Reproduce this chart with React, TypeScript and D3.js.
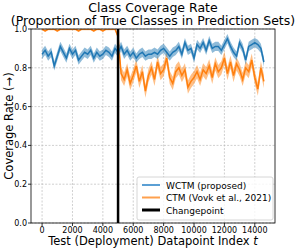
import * as d3 from 'd3';

const step = 200;
const changepoint = 5000;

const wctm = [
  0.87, 0.89, 0.86, 0.88, 0.81, 0.86, 0.91, 0.88, 0.85, 0.90, 0.87, 0.89, 0.84,
  0.86, 0.88, 0.87, 0.89, 0.85, 0.88, 0.86, 0.87, 0.89, 0.88, 0.86, 0.90, 0.88,
  0.91, 0.87, 0.89, 0.86, 0.88, 0.85, 0.87, 0.88, 0.86, 0.87,
  0.87, 0.88, 0.87, 0.89, 0.90, 0.88, 0.86, 0.88, 0.89, 0.91,
  0.87, 0.93, 0.89, 0.90, 0.85, 0.92, 0.90, 0.93, 0.89, 0.94,
  0.90, 0.91, 0.91, 0.89, 0.92, 0.95, 0.91, 0.88, 0.86, 0.93,
  0.90, 0.84, 0.91, 0.92, 0.93, 0.92, 0.90, 0.83,
];

const ctm = [
  1.0, 0.99, 1.0, 1.0, 1.0, 0.99, 1.0, 1.0, 1.0, 1.0, 1.0, 1.0, 0.99,
  1.0, 1.0, 1.0, 1.0, 0.99, 1.0, 1.0, 0.99, 1.0, 1.0, 1.0, 1.0, 0.96,
  0.77, 0.74, 0.79, 0.72, 0.76, 0.81, 0.73, 0.78, 0.68, 0.76,
  0.80, 0.74, 0.83, 0.77, 0.79, 0.85, 0.75, 0.72, 0.78, 0.80,
  0.76, 0.79, 0.70, 0.73, 0.75, 0.78, 0.74, 0.79, 0.77, 0.81,
  0.75, 0.82, 0.78, 0.80, 0.85, 0.77, 0.83, 0.76, 0.82, 0.79,
  0.74, 0.80, 0.78, 0.84, 0.75, 0.69, 0.80, 0.73,
];

const wctmBand = 0.024;
const ctmBandPre = 0.006;
const ctmBandPost = 0.034;

const xTicks = [0, 2000, 4000, 6000, 8000, 10000, 12000, 14000];
const yTicks = [0, 0.2, 0.4, 0.6, 0.8, 1.0];

const W = 298;
const H = 250;
const m = { left: 31, right: 23, top: 29, bottom: 27 };
const font = 'DejaVu Sans, sans-serif';

export default function App() {
  const xMax = (wctm.length - 1) * step;
  const pad = xMax * 0.05;
  const x = d3.scaleLinear().domain([-pad, xMax + pad]).range([m.left, W - m.right]);
  const y = d3.scaleLinear().domain([0, 1]).range([H - m.bottom, m.top]);

  const line = d3
    .line<number>()
    .x((_, i) => x(i * step))
    .y((d) => y(d));

  const band = (vals: number[], err: (i: number) => number) =>
    d3
      .area<number>()
      .x((_, i) => x(i * step))
      .y0((d, i) => y(d - err(i)))
      .y1((d, i) => y(Math.min(1, d + err(i))))(vals);

  const series = [
    { vals: ctm, color: '#ff7f0e', err: (i: number) => (i * step <= changepoint ? ctmBandPre : ctmBandPost) },
    { vals: wctm, color: '#1f77b4', err: () => wctmBand },
  ];

  const legend = [
    { label: 'WCTM (proposed)', color: '#5b9fd4', w: 2 },
    { label: 'CTM (Vovk et al., 2021)', color: '#ffa04d', w: 2 },
    { label: 'Changepoint', color: '#000', w: 3 },
  ];

  const x0 = m.left;
  const x1 = W - m.right;
  const y0 = H - m.bottom;
  const y1 = m.top;

  return (
    <svg
      width={W}
      height={H}
      style={{ position: 'absolute', left: 0, top: 0, fontFamily: font }}
    >
      <rect width={W} height={H} fill="#fff" />
      <defs>
        <clipPath id="plot">
          <rect x={x0} y={y1} width={x1 - x0} height={y0 - y1} />
        </clipPath>
      </defs>
      {xTicks.map((t) => (
        <line key={'gx' + t} x1={x(t)} x2={x(t)} y1={y1} y2={y0} stroke="#b0b0b0" strokeWidth={0.6} strokeDasharray="2,1.5" />
      ))}
      {yTicks.map((t) => (
        <line key={'gy' + t} x1={x0} x2={x1} y1={y(t)} y2={y(t)} stroke="#b0b0b0" strokeWidth={0.6} strokeDasharray="2,1.5" />
      ))}
      <g clipPath="url(#plot)">
        {series.map((s) => (
          <g key={s.color}>
            <path d={band(s.vals, s.err) ?? ''} fill={s.color} opacity={0.5} />
            <path d={line(s.vals) ?? ''} fill="none" stroke={s.color} strokeWidth={1.5} />
          </g>
        ))}
        <line x1={x(changepoint)} x2={x(changepoint)} y1={y1} y2={y0} stroke="#000" strokeWidth={2.5} />
      </g>
      <rect x={x0} y={y1} width={x1 - x0} height={y0 - y1} fill="none" stroke="#000" strokeWidth={0.8} />
      {xTicks.map((t) => (
        <g key={'tx' + t}>
          <line x1={x(t)} x2={x(t)} y1={y0} y2={y0 + 3} stroke="#000" strokeWidth={0.8} />
          <text x={x(t)} y={y0 + 9.5} fontSize={8} textAnchor="middle">{t}</text>
        </g>
      ))}
      {yTicks.map((t) => (
        <g key={'ty' + t}>
          <line x1={x0 - 3} x2={x0} y1={y(t)} y2={y(t)} stroke="#000" strokeWidth={0.8} />
          <text x={x0 - 4} y={y(t) + 3} fontSize={8} textAnchor="end">{t.toFixed(1)}</text>
        </g>
      ))}
      <text x={(x0 + x1) / 2} y={12} fontSize={12.5} textAnchor="middle">Class Coverage Rate</text>
      <text x={(x0 + x1) / 2} y={25} fontSize={12.5} textAnchor="middle">(Proportion of True Classes in Prediction Sets)</text>
      <text x={(x0 + x1) / 2} y={245} fontSize={11.5} textAnchor="middle">
        Test (Deployment) Datapoint Index <tspan fontStyle="italic">t</tspan>
      </text>
      <text transform={`translate(13,${(y0 + y1) / 2}) rotate(-90)`} fontSize={11.5} textAnchor="middle">
        Coverage Rate (→)
      </text>
      <g>
        <rect x={137} y={177} width={136} height={43} rx={2} fill="#fff" fillOpacity={0.8} stroke="#ccc" strokeWidth={0.8} />
        {legend.map((l, i) => (
          <g key={l.label}>
            <line x1={142} x2={160} y1={185 + i * 12.5} y2={185 + i * 12.5} stroke={l.color} strokeWidth={l.w} />
            <text x={166} y={188.5 + i * 12.5} fontSize={9}>{l.label}</text>
          </g>
        ))}
      </g>
    </svg>
  );
}
